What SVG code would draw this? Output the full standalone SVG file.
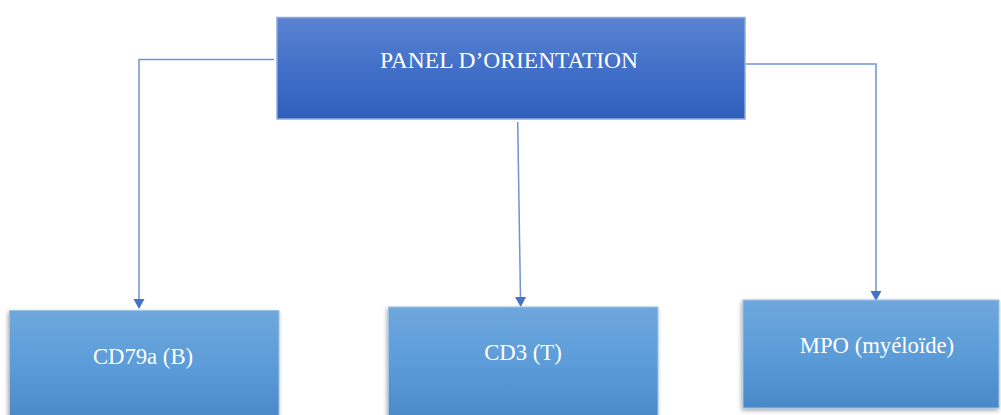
<svg xmlns="http://www.w3.org/2000/svg" width="1001" height="415" viewBox="0 0 1001 415">
  <style>
    .label { font-family: "Liberation Serif", "Times New Roman", serif; fill: #ffffff; text-anchor: middle; }
    .top-box { fill: url(#topGrad); stroke: #8fa9dc; stroke-width: 1.5; }
    .leaf-box { fill: url(#leafGrad); stroke: #9dc3e6; stroke-width: 1; }
    .link { fill: none; stroke: #6f93d6; stroke-width: 1.5; }
    .head { fill: #4472c4; }
  </style>
  <defs>
    <linearGradient id="topGrad" x1="0" y1="0" x2="0" y2="1">
      <stop offset="0" stop-color="#5a83d1"/>
      <stop offset="0.5" stop-color="#4270c8"/>
      <stop offset="1" stop-color="#2f5fba"/>
    </linearGradient>
    <linearGradient id="leafGrad" x1="0" y1="0" x2="0" y2="1">
      <stop offset="0" stop-color="#6fa7dc"/>
      <stop offset="0.5" stop-color="#5b9cd9"/>
      <stop offset="1" stop-color="#4a88c8"/>
    </linearGradient>
    <filter id="shadow" x="-10%" y="-10%" width="120%" height="130%">
      <feDropShadow dx="-1" dy="2" stdDeviation="2" flood-color="#000000" flood-opacity="0.35"/>
    </filter>
  </defs>

  <!-- connectors: elbow and straight lines with filled triangular heads -->
  <g id="connectors">
    <path class="link" d="M274,59.5 H139 V301"/>
    <path class="head" d="M133.5,299 L144.5,299 L139,309 Z"/>
    <path class="link" d="M517.7,122 L520.5,299"/>
    <path class="head" d="M515,297 L526,297 L520.7,307 Z"/>
    <path class="link" d="M746,64 H876 V292"/>
    <path class="head" d="M870.5,291 L881.5,291 L876,301 Z"/>
  </g>

  <!-- root node -->
  <g id="panel">
    <rect class="top-box" x="277" y="17.5" width="468" height="101.5"/>
    <text class="label" x="509" y="68" font-size="23.5">PANEL D’ORIENTATION</text>
  </g>

  <!-- leaf nodes -->
  <g id="cd79a">
    <rect class="leaf-box" x="9.5" y="310.5" width="269.5" height="110" filter="url(#shadow)"/>
    <text class="label" x="143" y="364" font-size="22.7">CD79a (B)</text>
  </g>
  <g id="cd3">
    <rect class="leaf-box" x="388.5" y="307" width="269.5" height="115" filter="url(#shadow)"/>
    <text class="label" x="523" y="360" font-size="22.7">CD3 (T)</text>
  </g>
  <g id="mpo">
    <rect class="leaf-box" x="743" y="300" width="256" height="108" filter="url(#shadow)"/>
    <text class="label" x="877" y="353" font-size="22.7">MPO (myéloïde)</text>
  </g>
</svg>
